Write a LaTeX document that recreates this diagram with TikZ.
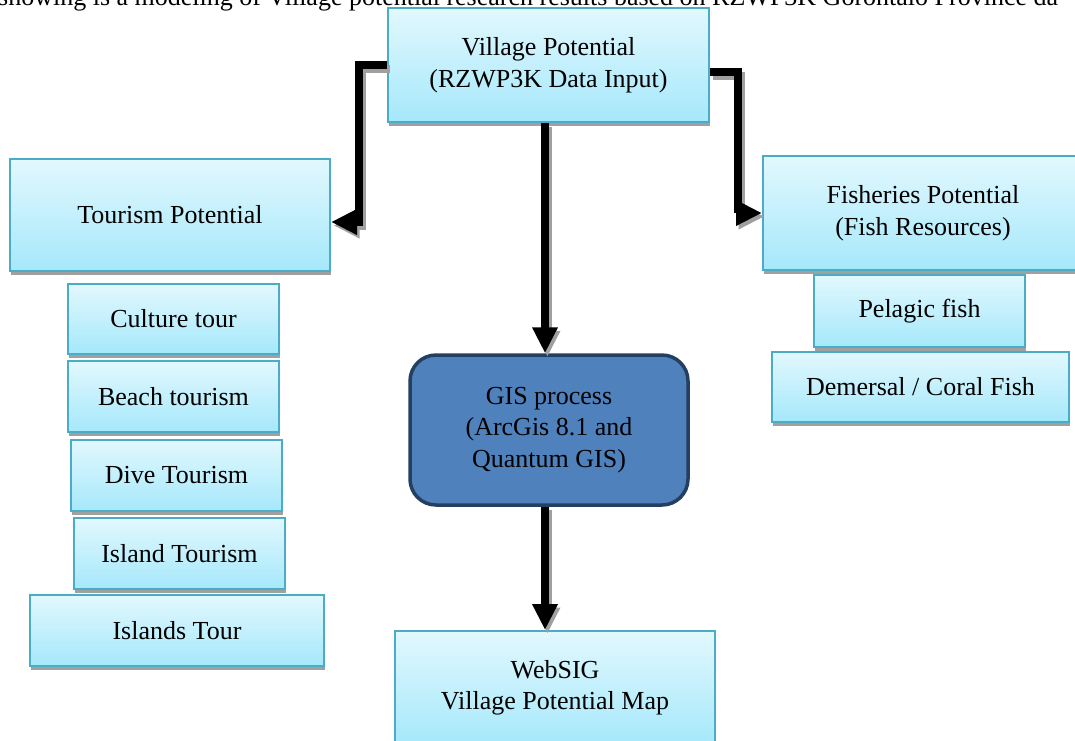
\documentclass[tikz,border=0pt]{standalone}
\usepackage{fontspec}
\setmainfont{Liberation Serif}
\usetikzlibrary{arrows.meta,shadows,calc}
\definecolor{boxtop}{HTML}{E2F8FE}
\definecolor{boxbot}{HTML}{A5E8FB}
\definecolor{boxline}{HTML}{4BACC6}
\definecolor{gisfill}{HTML}{4F81BD}
\definecolor{gisline}{HTML}{243F60}
\definecolor{shadowgray}{HTML}{A0A0A0}
\tikzset{
  lbox/.style={rectangle, draw=boxline, line width=2pt, top color=boxtop, bottom color=boxbot,
    align=center, inner sep=0pt, font=\fontsize{26}{31.5}\selectfont,
    drop shadow={shadow xshift=1pt, shadow yshift=-4pt, fill=shadowgray, opacity=1}},
  gisbox/.style={rectangle, rounded corners=26pt, draw=gisline, line width=3.5pt, fill=gisfill,
    align=center, inner sep=0pt, font=\fontsize{26}{31.5}\selectfont},
  flow/.style={line width=8pt, line join=miter, -{Triangle[length=26pt,width=24pt]}},
  flowshadow/.style={flow, draw=shadowgray, color=shadowgray},
}
\begin{document}
\begin{tikzpicture}[x=1pt,y=-1pt]
\useasboundingbox (0,0) rectangle (1075,740);
\clip (0,0) rectangle (1075,740);
\node[anchor=base west, inner sep=0pt, font=\fontsize{26}{31.5}\selectfont] (caption) at (-2,5)
  {showing is a modeling of Village potential research results based on RZWP3K Gorontalo Province da};
% boxes
\node[lbox, minimum width=321pt, minimum height=114pt] (top) at (548.5,65) {Village Potential\\(RZWP3K Data Input)};
\node[lbox, minimum width=320pt, minimum height=112pt] (tour) at (170,215) {Tourism Potential};
\node[lbox, minimum width=211pt, minimum height=70pt] (culture) at (173.5,319) {Culture tour};
\node[lbox, minimum width=211pt, minimum height=71pt] (beach) at (173.5,396.5) {Beach tourism};
\node[lbox, minimum width=211pt, minimum height=71pt] (dive) at (176.5,475.5) {Dive Tourism};
\node[lbox, minimum width=211pt, minimum height=71pt] (island) at (179.5,553.5) {Island Tourism};
\node[lbox, minimum width=294pt, minimum height=71pt] (islands) at (177,630.5) {Islands Tour};
\node[lbox, minimum width=320pt, minimum height=114pt] (fish) at (923,213) {Fisheries Potential\\(Fish Resources)};
\node[lbox, minimum width=211pt, minimum height=72pt] (pelagic) at (919.5,311) {Pelagic fish};
\node[lbox, minimum width=297pt, minimum height=70pt] (demersal) at (920.5,387) {Demersal / Coral Fish};
\node[gisbox, minimum width=278pt, minimum height=150pt] (gis) at (549,430) {GIS process\\(ArcGis 8.1 and\\Quantum GIS)};
\node[lbox, minimum width=320pt, minimum height=114pt] (web) at (555,688) {WebSIG\\Village Potential Map};
% connector corner points
\coordinate (lt) at (359,222);
\coordinate (rt) at (738,213);
\coordinate (tr) at ($(top.east)+(0,7)$);
\coordinate (ts) at ($(top.south)+(-3.5,0)$);
% arrow shadows
\begin{scope}[transform canvas={xshift=2.5pt,yshift=-3.5pt}]
\draw[flowshadow] (top.west) -| (lt) -- (tour.east |- lt);
\draw[flowshadow] (tr) -| (rt) -- (fish.west);
\draw[flowshadow] (ts) -- (ts |- gis.north);
\draw[flowshadow] (gis.south -| ts) -- (ts |- web.north);
\end{scope}
% arrows
\draw[flow] (top.west) -| (lt) -- (tour.east |- lt);
\draw[flow] (tr) -| (rt) -- (fish.west);
\draw[flow] (ts) -- (ts |- gis.north);
\draw[flow] (gis.south -| ts) -- (ts |- web.north);
\end{tikzpicture}
\end{document}
